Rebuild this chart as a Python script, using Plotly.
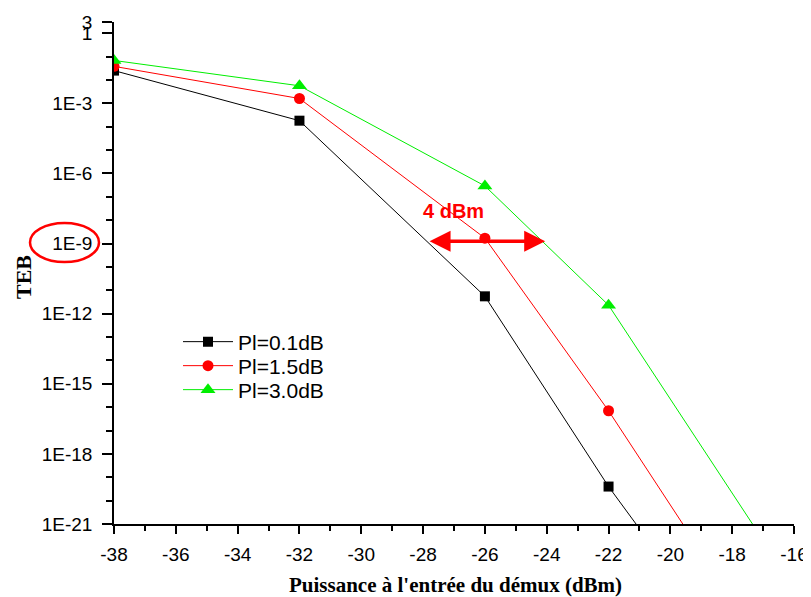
import plotly.graph_objects as go
import math

# Data
x_01 = [-38, -32, -26, -22, -20]
teb_01 = [2.5e-2, 1.8e-4, 5.5e-12, 4.0e-20, 1.0e-23]
x_15 = [-38, -32, -26, -22, -18]
teb_15 = [3.8e-2, 1.6e-3, 1.7e-9, 7.0e-17, 6.0e-25]
x_30 = [-38, -32, -26, -22, -16]
teb_30 = [6.8e-2, 5.6e-3, 2.9e-7, 2.3e-12, 2.0e-24]
names = ["Pl=0.1dB", "Pl=1.5dB", "Pl=3.0dB"]

y_tickvals = [3, 1, 1e-3, 1e-6, 1e-9, 1e-12, 1e-15, 1e-18, 1e-21]
y_ticktext = ["3", "1", "1E-3", "1E-6", "1E-9", "1E-12", "1E-15", "1E-18", "1E-21"]
x_tickvals = [-38, -36, -34, -32, -30, -28, -26, -24, -22, -20, -18, -16]

OFF = 8  # page body margin
W, H = 811 - 2 * OFF, 597 - OFF
L, R, T, B = 114 - OFF, 794 - OFF, 22 - OFF, 524 - OFF
pw, ph = R - L, B - T


def px(xs):
    return (xs - OFF - L) / pw


def py(ys):
    return (B - (ys - OFF)) / ph


fig = go.Figure()
fig.add_trace(go.Scatter(x=x_01, y=teb_01, name=names[0], mode="lines+markers",
                         line=dict(color="black", width=1), legend="legend",
                         marker=dict(symbol="square", size=10, color="black")))
fig.add_trace(go.Scatter(x=x_15, y=teb_15, name=names[1], mode="lines+markers",
                         line=dict(color="red", width=1), legend="legend2",
                         marker=dict(symbol="circle", size=11, color="red")))
fig.add_trace(go.Scatter(x=x_30, y=teb_30, name=names[2], mode="lines+markers",
                         line=dict(color="#00ee00", width=1), legend="legend3",
                         marker=dict(symbol="triangle-up", size=13, color="#00ee00")))

leg_common = dict(x=px(178), xanchor="left", yanchor="middle",
                  font=dict(size=21, family="Liberation Sans, Arial", color="black"),
                  bgcolor="rgba(0,0,0,0)", itemwidth=50)

fig.update_layout(
    width=W, height=H,
    margin=dict(l=L, r=W - R, t=T, b=H - B, autoexpand=False),
    paper_bgcolor="white", plot_bgcolor="white",
    font=dict(family="Liberation Sans, Arial", size=19, color="black"),
    showlegend=True,
    legend=dict(y=py(342), **leg_common),
    legend2=dict(y=py(366), **leg_common),
    legend3=dict(y=py(390), **leg_common),
)
fig.update_xaxes(
    range=[-38, -16], showgrid=False, zeroline=False, automargin=False,
    showline=True, linecolor="black", linewidth=1.5,
    ticks="outside", ticklen=8, tickwidth=1.5, tickcolor="black",
    tickvals=x_tickvals, ticktext=[str(v) for v in x_tickvals],
    ticklabelstandoff=4, ticklabeloverflow="allow",
    minor=dict(dtick=1, ticks="outside", ticklen=5, tickwidth=1.5, tickcolor="black"),
)
fig.update_yaxes(
    type="log", range=[-21, math.log10(3)], showgrid=False, zeroline=False,
    automargin=False,
    showline=True, linecolor="black", linewidth=1.5,
    ticks="outside", ticklen=10, tickwidth=1.5, tickcolor="black",
    tickvals=y_tickvals, ticktext=y_ticktext, ticklabelstandoff=6,
    ticklabeloverflow="allow",
    minor=dict(tickvals=[10.0 ** (-k) for k in range(0, 22)], ticks="outside",
               ticklen=6, tickwidth=1.5, tickcolor="black"),
)

# Axis titles
fig.add_annotation(x=px(455), y=py(585), xref="paper", yref="paper", showarrow=False,
                   xanchor="center", yanchor="middle",
                   text="<b>Puissance à l'entrée du démux (dBm)</b>",
                   font=dict(family="Liberation Serif, Times New Roman", size=21, color="black"))
fig.add_annotation(x=px(23), y=py(277), xref="paper", yref="paper", showarrow=False,
                   xanchor="center", yanchor="middle",
                   text="<b>TEB</b>", textangle=-90,
                   font=dict(family="Liberation Serif, Times New Roman", size=22, color="black"))

# Double-headed arrow "4 dBm"
fig.add_annotation(x=-24.05, y=-8.9, ax=-27.84, ay=-8.9, xref="x", yref="y",
                   axref="x", ayref="y", text="", showarrow=True,
                   arrowhead=2, arrowside="end+start", arrowsize=1.2,
                   arrowwidth=3.5, arrowcolor="red")
fig.add_annotation(x=-27.03, y=-7.61, xref="x", yref="y", text="<b>4 dBm</b>",
                   showarrow=False, font=dict(size=20, color="red",
                                              family="Liberation Sans, Arial"))
# Ellipse around 1E-9 label
fig.add_shape(type="circle", xref="paper", yref="paper",
              x0=px(30), x1=px(99), y0=py(262), y1=py(223),
              line=dict(color="red", width=2.5))

fig.write_html("out.html")
